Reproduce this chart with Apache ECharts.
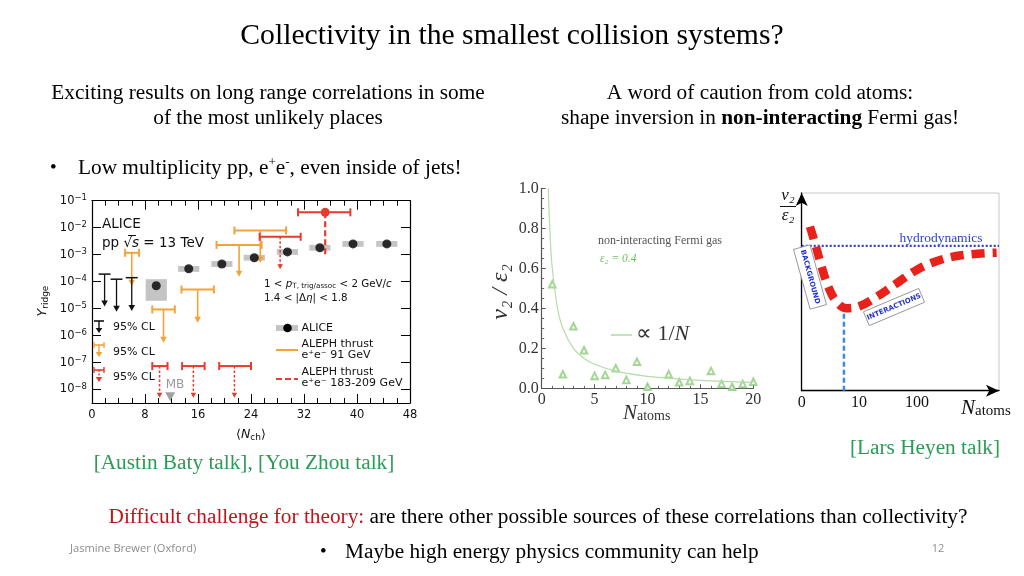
<!DOCTYPE html>
<html><head><meta charset="utf-8">
<script src="https://cdn.jsdelivr.net/npm/echarts@6/dist/echarts.min.js"></script>
<style>html,body{margin:0;padding:0;background:#fff}#c{width:1024px;height:576px}</style>
</head><body><div id="c"></div>
<script>
// ===== Left panel: ALICE Y_ridge vs <N_ch> (log y) =====
const yTickExps   = [-8, -7, -6, -5, -4, -3, -2, -1];
const yTickSup    = ['−8', '−7', '−6', '−5', '−4', '−3', '−2', '−1'];
const xTickLabelsLeft = ['0','8','16','24','32','40','48'];

const aliceN      = [9.7, 14.6, 19.6, 24.5, 29.5, 34.4, 39.4, 44.5];
const aliceY      = [7.0e-5, 3.0e-4, 4.5e-4, 7.7e-4, 1.26e-3, 1.8e-3, 2.5e-3, 2.5e-3];
const aliceSystLo = [1.95e-5, 2.3e-4, 3.5e-4, 6.0e-4, 9.8e-4, 1.4e-3, 1.95e-3, 1.95e-3];
const aliceSystHi = [1.23e-4, 3.8e-4, 5.8e-4, 9.9e-4, 1.62e-3, 2.3e-3, 3.2e-3, 3.2e-3];
const aliceSystHalfN = [1.6, 1.6, 1.6, 1.6, 1.6, 1.6, 1.6, 1.6];

const blackN = [1.9, 3.7, 6.0];
const blackLo = [1.0, 2.8, 5.1];
const blackHi = [2.8, 4.6, 6.9];
const blackLimit = [1.9e-4, 1.23e-4, 1.4e-4];
const blackArrowTo = [1.2e-5, 7.6e-6, 8.1e-6];

const orangeN = [6.0, 10.8, 15.95, 22.2, 25.4];
const orangeLo = [5.0, 9.1, 13.5, 18.8, 21.5];
const orangeHi = [7.1, 12.5, 18.4, 25.6, 29.3];
const orangeLimit = [1.17e-3, 9.3e-6, 5.1e-5, 2.3e-3, 7.9e-3];
const orangeArrowTo = [7.0e-5, 5.4e-7, 3.0e-6, 1.5e-4, 5.0e-4];

const redN = [10.2, 15.3, 21.5, 28.4];
const redLo = [9.1, 13.6, 19.2, 25.3];
const redHi = [11.4, 17.0, 24.0, 31.5];
const redLimit = [7.4e-8, 7.4e-8, 7.4e-8, 4.6e-3];
const redArrowTo = [5.0e-9, 5.0e-9, 5.0e-9, 2.9e-4];

const redPointN = [35.2];
const redPointLo = [31.1];
const redPointHi = [39.0];
const redPointY = [3.7e-2];
const redPointErrDown = [8.9e-4];

const mbN = [11.8];
const mbY = [5.4e-9];

// ===== Middle panel: cold atoms v2/eps2 vs N_atoms =====
const atomsN = [1, 2, 3, 4, 5, 6, 7, 8, 9, 10, 12, 13, 14, 16, 17, 18, 19, 20];
const atomsV = [0.52, 0.07, 0.31, 0.19, 0.062, 0.067, 0.10, 0.042, 0.133, 0.008, 0.07, 0.03, 0.037, 0.087, 0.022, 0.008, 0.022, 0.033];
const fitN = [0.62, 0.8, 1, 1.5, 2, 3, 4, 5, 7, 10, 15, 20];
const fitV = [1.0, 0.76, 0.6, 0.4, 0.3, 0.2, 0.15, 0.12, 0.086, 0.06, 0.04, 0.03];

// ===== Right panel: schematic =====
const schemTickPos = [0, 29, 58.4];
const schemTickLabels = ['0', '10', '100'];
const curveX = [4.2, 6.7, 10.1, 13.5, 17.7, 22.8, 29.5, 38.0, 48.1, 58.3, 70.1, 81.9, 98.8];
const curveY = [83.0, 74.7, 62.7, 52.6, 45.0, 41.7, 42.8, 47.5, 54.3, 61.1, 66.1, 68.6, 69.8];
const hydroLevel = [73.3];
const minimumX = [21.4];
const minimumY = [39.3];

// ---------------------------------------------------------------
const L = v => Math.log10(v);
const SANS = 'DejaVu Sans';
const SERIF = 'Liberation Serif';
const ORANGE = '#f2a33a';
const RED = '#e63b2e';
const BODY = 21.3;

function limitSeries(N, lo, hi, lim, tip, color, o) {
  return {
    type: 'custom', xAxisIndex: 0, yAxisIndex: 0, z: o.z || 4, silent: true,
    data: N.map((n, i) => [n, lo[i], hi[i], L(lim[i]), L(tip[i])]),
    encode: { x: [0, 1, 2], y: [3, 4] },
    renderItem: (params, api) => {
      const c = api.coord([api.value(0), api.value(3)]);
      const l = api.coord([api.value(1), api.value(3)]);
      const h = api.coord([api.value(2), api.value(3)]);
      const t = api.coord([api.value(0), api.value(4)]);
      const ah = o.ah;
      const ch = [{ type: 'line', shape: { x1: l[0], y1: l[1], x2: h[0], y2: h[1] }, style: { stroke: color, lineWidth: o.barLw } }];
      if (o.caps) {
        ch.push({ type: 'line', shape: { x1: l[0], y1: l[1] - 4, x2: l[0], y2: l[1] + 4 }, style: { stroke: color, lineWidth: o.barLw } });
        ch.push({ type: 'line', shape: { x1: h[0], y1: h[1] - 4, x2: h[0], y2: h[1] + 4 }, style: { stroke: color, lineWidth: o.barLw } });
      }
      ch.push({ type: 'line', shape: { x1: c[0], y1: c[1], x2: t[0], y2: t[1] - ah * 0.8 }, style: { stroke: color, lineWidth: o.lw, lineDash: o.dash || null } });
      ch.push({ type: 'polygon', shape: { points: [[t[0] - ah * 0.55, t[1] - ah], [t[0] + ah * 0.55, t[1] - ah], [t[0], t[1]]] }, style: { fill: color } });
      return { type: 'group', children: ch };
    }
  };
}

const series = [];
series.push({
  type: 'custom', xAxisIndex: 0, yAxisIndex: 0, z: 2, silent: true,
  data: aliceN.map((n, i) => [n - aliceSystHalfN[i], n + aliceSystHalfN[i], L(aliceSystLo[i]), L(aliceSystHi[i])]),
  encode: { x: [0, 1], y: [2, 3] },
  renderItem: (p, api) => {
    const a = api.coord([api.value(0), api.value(3)]);
    const b = api.coord([api.value(1), api.value(2)]);
    return { type: 'rect', shape: { x: a[0], y: a[1], width: b[0] - a[0], height: b[1] - a[1] }, style: { fill: '#c4c4c4' } };
  }
});
series.push(limitSeries(blackN, blackLo, blackHi, blackLimit, blackArrowTo, '#111', { ah: 6, lw: 1.3, barLw: 1.5, caps: false, z: 5 }));
series.push(limitSeries(orangeN, orangeLo, orangeHi, orangeLimit, orangeArrowTo, ORANGE, { ah: 6, lw: 1.6, barLw: 2, caps: true, z: 4 }));
series.push(limitSeries(redN, redLo, redHi, redLimit, redArrowTo, RED, { ah: 5, lw: 1.5, barLw: 2, caps: true, dash: [2.5, 2], z: 4 }));
series.push({
  type: 'custom', xAxisIndex: 0, yAxisIndex: 0, z: 4, silent: true,
  data: redPointN.map((n, i) => [n, redPointLo[i], redPointHi[i], L(redPointY[i]), L(redPointErrDown[i])]),
  encode: { x: [0, 1, 2], y: [3, 4] },
  renderItem: (p, api) => {
    const c = api.coord([api.value(0), api.value(3)]);
    const l = api.coord([api.value(1), api.value(3)]);
    const h = api.coord([api.value(2), api.value(3)]);
    const t = api.coord([api.value(0), api.value(4)]);
    return { type: 'group', children: [
      { type: 'line', shape: { x1: l[0], y1: l[1], x2: h[0], y2: h[1] }, style: { stroke: RED, lineWidth: 2 } },
      { type: 'line', shape: { x1: l[0], y1: l[1] - 4, x2: l[0], y2: l[1] + 4 }, style: { stroke: RED, lineWidth: 2 } },
      { type: 'line', shape: { x1: h[0], y1: h[1] - 4, x2: h[0], y2: h[1] + 4 }, style: { stroke: RED, lineWidth: 2 } },
      { type: 'line', shape: { x1: c[0], y1: c[1], x2: t[0], y2: t[1] }, style: { stroke: RED, lineWidth: 2.2, lineDash: [6, 3] } },
      { type: 'circle', shape: { cx: c[0], cy: c[1], r: 4.5 }, style: { fill: RED } }
    ] };
  }
});
series.push({
  type: 'scatter', xAxisIndex: 0, yAxisIndex: 0, z: 6, silent: true,
  data: aliceN.map((n, i) => [n, L(aliceY[i])]),
  symbol: 'circle', symbolSize: 9, itemStyle: { color: '#000' }
});
series.push({
  type: 'scatter', xAxisIndex: 0, yAxisIndex: 0, z: 6, silent: true,
  data: mbN.map((n, i) => [n, L(mbY[i])]),
  symbol: 'triangle', symbolRotate: 180, symbolSize: [10, 9], itemStyle: { color: '#8a8a8a' }
});
series.push({
  type: 'line', xAxisIndex: 2, yAxisIndex: 2, smooth: 0.35, showSymbol: false, silent: true,
  data: fitN.map((n, i) => [n, fitV[i]]),
  lineStyle: { color: '#b5dca8', width: 1.2 }
});
series.push({
  type: 'scatter', xAxisIndex: 2, yAxisIndex: 2, silent: true,
  data: atomsN.map((n, i) => [n, atomsV[i]]),
  symbol: 'emptyTriangle', symbolSize: 6.5, itemStyle: { color: '#8ccc7a', borderWidth: 1 }
});
series.push({
  type: 'line', xAxisIndex: 3, yAxisIndex: 3, silent: true, showSymbol: false, z: 2,
  data: [[0, hydroLevel[0]], [100, hydroLevel[0]]],
  lineStyle: { color: '#2e3fd0', width: 2.2, type: [2, 2] }
});
series.push({
  type: 'line', xAxisIndex: 3, yAxisIndex: 3, silent: true, showSymbol: false, z: 2,
  data: [[minimumX[0], 0], [minimumX[0], minimumY[0]]],
  lineStyle: { color: '#3b8de0', width: 2.5, type: [5, 3] }
});
series.push({
  type: 'line', xAxisIndex: 3, yAxisIndex: 3, silent: true, showSymbol: false, smooth: 0.4, z: 3,
  data: curveX.map((x, i) => [x, curveY[i]]),
  lineStyle: { color: '#e8221a', width: 8.5, type: [13, 8] }
});

const option = {
  animation: false,
  backgroundColor: '#fff',
  grid: [
    { left: 92, top: 200.7, width: 318, height: 202.3, outerBoundsMode: 'none' },
    { left: 541.7, top: 188.3, width: 211.6, height: 200, outerBoundsMode: 'none' },
    { left: 801.7, top: 193, width: 197.3, height: 197.7, show: true, borderColor: '#c8c8c8', borderWidth: 1, outerBoundsMode: 'none' }
  ],
  xAxis: [
    { gridIndex: 0, type: 'value', min: 0, max: 48, interval: 8, position: 'bottom',
      axisLine: { onZero: false, lineStyle: { color: '#000', width: 1.2 } },
      axisTick: { inside: true, length: 9, lineStyle: { color: '#000', width: 1 } },
      minorTick: { show: true, splitNumber: 4, length: 5, lineStyle: { color: '#000', width: 1 } },
      splitLine: { show: false },
      axisLabel: { fontFamily: SANS, fontSize: 11.5, color: '#111', margin: 6,
        formatter: v => xTickLabelsLeft[Math.round(v / 8)] } },
    { gridIndex: 0, type: 'value', min: 0, max: 48, interval: 8, position: 'top',
      axisLine: { onZero: false, lineStyle: { color: '#000', width: 1.2 } },
      axisTick: { inside: true, length: 9, lineStyle: { color: '#000', width: 1 } },
      minorTick: { show: true, splitNumber: 4, length: 5, lineStyle: { color: '#000', width: 1 } },
      splitLine: { show: false }, axisLabel: { show: false } },
    { gridIndex: 1, type: 'value', min: 0, max: 20, interval: 5,
      axisLine: { onZero: false, lineStyle: { color: '#555', width: 1.2 } },
      axisTick: { inside: true, length: 4, lineStyle: { color: '#555' } },
      minorTick: { show: true, splitNumber: 5, length: 2.5, lineStyle: { color: '#666' } },
      splitLine: { show: false },
      axisLabel: { fontFamily: SERIF, fontSize: 16, color: '#333', margin: 3 } },
    { gridIndex: 2, type: 'value', min: 0, max: 100,
      axisLine: { onZero: false, symbol: ['none', 'arrow'], symbolSize: [9, 13], lineStyle: { color: '#000', width: 1.3 } },
      axisTick: { show: false }, splitLine: { show: false },
      axisLabel: { customValues: schemTickPos, fontFamily: SERIF, fontSize: 16, color: '#111', margin: 4,
        formatter: v => schemTickLabels[schemTickPos.indexOf(v)] } }
  ],
  yAxis: [
    { gridIndex: 0, type: 'value', min: -8.5, max: -1, position: 'left',
      axisLine: { onZero: false, lineStyle: { color: '#000', width: 1.2 } },
      axisTick: { inside: true, length: 9, customValues: yTickExps, lineStyle: { color: '#000', width: 1 } },
      splitLine: { show: false },
      axisLabel: { customValues: yTickExps, margin: 5,
        formatter: v => '{b|10}{s|' + yTickSup[yTickExps.indexOf(Math.round(v))] + '}',
        rich: { b: { fontFamily: SANS, fontSize: 11.5, color: '#111', lineHeight: 14 },
                s: { fontFamily: SANS, fontSize: 8.5, color: '#111', verticalAlign: 'top', lineHeight: 10 } } } },
    { gridIndex: 0, type: 'value', min: -8.5, max: -1, position: 'right',
      axisLine: { onZero: false, lineStyle: { color: '#000', width: 1.2 } },
      axisTick: { inside: true, length: 9, customValues: yTickExps, lineStyle: { color: '#000', width: 1 } },
      splitLine: { show: false }, axisLabel: { show: false } },
    { gridIndex: 1, type: 'value', min: 0, max: 1, interval: 0.2,
      axisLine: { onZero: false, lineStyle: { color: '#555', width: 1.2 } },
      axisTick: { inside: true, length: 4, lineStyle: { color: '#555' } },
      minorTick: { show: true, splitNumber: 4, length: 2.5, lineStyle: { color: '#666' } },
      splitLine: { show: false },
      axisLabel: { fontFamily: SERIF, fontSize: 16, color: '#333', margin: 3, formatter: v => v.toFixed(1) } },
    { gridIndex: 2, type: 'value', min: 0, max: 100,
      axisLine: { onZero: false, symbol: ['none', 'arrow'], symbolSize: [9, 13], lineStyle: { color: '#000', width: 1.3 } },
      axisTick: { show: false }, splitLine: { show: false }, axisLabel: { show: false } }
  ],
  series: series,
  graphic: []
};

const G = option.graphic;
function T(text, x, y, s, extra) {
  const el = { type: 'text', x: x, y: y, z: 100, silent: true,
    style: Object.assign({ text: text, fill: '#000', fontFamily: SERIF, fontSize: BODY, align: 'left', verticalAlign: 'middle' }, s || {}) };
  return Object.assign(el, extra || {});
}
// slide text
G.push(T('Collectivity in the smallest collision systems?', 512, 36, { fontSize: 29.7, align: 'center' }));
G.push(T('Exciting results on long range correlations in some', 268, 93, { align: 'center' }));
G.push(T('of the most unlikely places', 268, 118, { align: 'center' }));
G.push(T('A word of caution from cold atoms:', 760, 93, { align: 'center' }));
G.push(T('{n|shape inversion in }{b|non-interacting}{n| Fermi gas!}', 760, 118, { align: 'center',
  rich: { n: { fontFamily: SERIF, fontSize: BODY, fill: '#000' }, b: { fontFamily: SERIF, fontSize: BODY, fontWeight: 'bold', fill: '#000' } } }));
G.push(T('•', 50, 168, { fontSize: 19 }));
G.push(T('{n|Low multiplicity pp, e}{s|+}{n|e}{s|-}{n|, even inside of jets!}', 78, 168, {
  rich: { n: { fontFamily: SERIF, fontSize: BODY, fill: '#000', lineHeight: 24 }, s: { fontFamily: SERIF, fontSize: 13, fill: '#000', verticalAlign: 'top', lineHeight: 15 } } }));
G.push(T('[Austin Baty talk], [You Zhou talk]', 244, 463, { align: 'center', fill: '#2e9a58' }));
G.push(T('[Lars Heyen talk]', 925, 448, { align: 'center', fill: '#2e9a58' }));
G.push(T('{r|Difficult challenge for theory: }{k|are there other possible sources of these correlations than collectivity?}', 538, 517, { align: 'center',
  rich: { r: { fontFamily: SERIF, fontSize: BODY, fill: '#c0141c' }, k: { fontFamily: SERIF, fontSize: BODY, fill: '#000' } } }));
G.push(T('Jasmine Brewer (Oxford)', 70, 549, { fontFamily: 'Open Sans', fontSize: 11.1, fill: '#8c8c8c' }));
G.push(T('•', 320, 552, { fontSize: 19 }));
G.push(T('Maybe high energy physics community can help', 345, 552, {}));
G.push(T('12', 938, 549, { fontFamily: 'Open Sans', fontSize: 11, fill: '#8c8c8c', align: 'center' }));

// left panel annotations
const sansRich = {
  n: { fontFamily: SANS, fontSize: 12.5, fill: '#111', lineHeight: 15 },
  i: { fontFamily: SANS, fontSize: 12.5, fontStyle: 'italic', fill: '#111', lineHeight: 15 },
  sub: { fontFamily: SANS, fontSize: 9, fill: '#111', verticalAlign: 'bottom', lineHeight: 10 },
  N: { fontFamily: SANS, fontSize: 13.5, fill: '#111' },
  I: { fontFamily: SANS, fontSize: 13.5, fontStyle: 'italic', fill: '#111' }
};
const smallRich = {
  n: { fontFamily: SANS, fontSize: 10.3, fill: '#111', lineHeight: 12 },
  i: { fontFamily: SANS, fontSize: 10.3, fontStyle: 'italic', fill: '#111', lineHeight: 12 },
  sub: { fontFamily: SANS, fontSize: 7.2, fill: '#111', verticalAlign: 'bottom', lineHeight: 7 }
};
G.push(T('ALICE', 102, 224, { fontFamily: SANS, fontSize: 13.5, fill: '#111' }));
G.push(T('{N|pp √}{I|s}{N| = 13 TeV}', 102, 243, { rich: sansRich }));
G.push({ type: 'line', z: 100, silent: true, shape: { x1: 128, y1: 235.5, x2: 136, y2: 235.5 }, style: { stroke: '#111', lineWidth: 1 } });
G.push(T('{n|1 < }{i|p}{sub|T, trig/assoc}{n| < 2 GeV/}{i|c}', 264, 284, { rich: smallRich }));
G.push(T('{n|1.4 < |Δ}{i|η}{n|| < 1.8}', 264, 298, { rich: smallRich }));
G.push(T('{n|⟨}{i|N}{sub|ch}{n|⟩}', 251, 435, { align: 'center', rich: sansRich }));
G.push(T('{i|Y}{sub|ridge}', 43, 301, { align: 'center', rich: sansRich }, { rotation: Math.PI / 2 }));
G.push(T('MB', 175, 385, { fontFamily: SANS, fontSize: 12, fill: '#999', align: 'center' }));
['95% CL', '95% CL', '95% CL'].forEach((t, k) => G.push(T(t, 113, [327.3, 351.7, 376.7][k], { fontFamily: SANS, fontSize: 11, fill: '#111' })));
function arrowIcon(x, y0, y1, color, caps, dash) {
  G.push({ type: 'line', z: 100, silent: true, shape: { x1: x - 5, y1: y0, x2: x + 5, y2: y0 }, style: { stroke: color, lineWidth: 1.6 } });
  if (caps) {
    G.push({ type: 'line', z: 100, silent: true, shape: { x1: x - 5, y1: y0 - 3, x2: x - 5, y2: y0 + 3 }, style: { stroke: color, lineWidth: 1.4 } });
    G.push({ type: 'line', z: 100, silent: true, shape: { x1: x + 5, y1: y0 - 3, x2: x + 5, y2: y0 + 3 }, style: { stroke: color, lineWidth: 1.4 } });
  }
  G.push({ type: 'line', z: 100, silent: true, shape: { x1: x, y1: y0, x2: x, y2: y1 - 4 }, style: { stroke: color, lineWidth: 1.4, lineDash: dash || null } });
  G.push({ type: 'polygon', z: 100, silent: true, shape: { points: [[x - 3.3, y1 - 5], [x + 3.3, y1 - 5], [x, y1]] }, style: { fill: color } });
}
arrowIcon(99, 321, 333, '#111', false);
arrowIcon(99, 345, 357, ORANGE, true);
arrowIcon(99, 370, 382, RED, true, [2, 1.5]);
G.push({ type: 'rect', z: 100, silent: true, shape: { x: 276, y: 325, width: 22, height: 6 }, style: { fill: '#c4c4c4' } });
G.push({ type: 'circle', z: 101, silent: true, shape: { cx: 287.5, cy: 328, r: 4.3 }, style: { fill: '#000' } });
G.push({ type: 'line', z: 100, silent: true, shape: { x1: 276, y1: 350, x2: 298, y2: 350 }, style: { stroke: ORANGE, lineWidth: 2 } });
G.push({ type: 'line', z: 100, silent: true, shape: { x1: 276, y1: 379, x2: 298, y2: 379 }, style: { stroke: RED, lineWidth: 2.2, lineDash: [6, 3] } });
G.push(T('ALICE', 301.5, 328, { fontFamily: SANS, fontSize: 11, fill: '#111' }));
G.push(T('ALEPH thrust', 301.5, 343.7, { fontFamily: SANS, fontSize: 11, fill: '#111' }));
G.push(T('e⁺e⁻ 91 GeV', 301.5, 355.5, { fontFamily: SANS, fontSize: 11, fill: '#111' }));
G.push(T('ALEPH thrust', 301.5, 372, { fontFamily: SANS, fontSize: 11, fill: '#111' }));
G.push(T('e⁺e⁻ 183-209 GeV', 301.5, 383.5, { fontFamily: SANS, fontSize: 11, fill: '#111' }));

// middle panel annotations
G.push(T('non-interacting Fermi gas', 660, 241, { fontSize: 12, fill: '#555', align: 'center' }));
G.push(T('ε₂ = 0.4', 600, 259, { fontSize: 11.5, fill: '#6cbf5a', fontStyle: 'italic' }));
G.push({ type: 'line', z: 100, silent: true, shape: { x1: 611, y1: 335, x2: 632, y2: 335 }, style: { stroke: '#9ed18e', lineWidth: 1.2 } });
G.push(T('∝ 1/{i|N}', 636, 334, { fontSize: 22, fill: '#333',
  rich: { i: { fontFamily: SERIF, fontSize: 22, fontStyle: 'italic', fill: '#333' } } }));
G.push(T('v₂ / ε₂', 501, 292, { fontSize: 24, fontStyle: 'italic', fill: '#333', align: 'center' }, { rotation: Math.PI / 2 }));
G.push(T('{i|N}{s|atoms}', 623, 413, { fill: '#333',
  rich: { i: { fontFamily: SERIF, fontSize: 21, fontStyle: 'italic', fill: '#333' }, s: { fontFamily: SERIF, fontSize: 14, fill: '#333', verticalAlign: 'bottom', lineHeight: 16 } } }));

// right panel annotations
G.push(T('hydrodynamics', 941, 238, { fontSize: 13.5, fill: '#3344cc', align: 'center' }));
G.push(T('v₂', 788, 196, { fontSize: 17, fontStyle: 'italic', fill: '#111', align: 'center' }));
G.push({ type: 'line', z: 100, silent: true, shape: { x1: 780, y1: 206.5, x2: 796, y2: 206.5 }, style: { stroke: '#111', lineWidth: 1 } });
G.push(T('ε₂', 788, 216, { fontSize: 17, fontStyle: 'italic', fill: '#111', align: 'center' }));
G.push(T('{i|N}{s|atoms}', 961, 408, { fill: '#111',
  rich: { i: { fontFamily: SERIF, fontSize: 21, fontStyle: 'italic', fill: '#111' }, s: { fontFamily: SERIF, fontSize: 15, fill: '#111', verticalAlign: 'bottom', lineHeight: 17 } } }));
G.push({ type: 'group', x: 810, y: 277, rotation: -1.30, z: 100, silent: true, children: [
  { type: 'rect', shape: { x: -31, y: -8.5, width: 62, height: 17 }, style: { fill: '#fff', stroke: '#8a8a8a', lineWidth: 0.8 }, z: 100 },
  { type: 'text', style: { text: 'BACKGROUND', x: 0, y: 0, align: 'center', verticalAlign: 'middle', fontFamily: 'DejaVu Sans', fontWeight: 'bold', fontSize: 7, fill: '#2233cc' }, z: 101 }
] });
G.push({ type: 'group', x: 894, y: 307, rotation: 0.40, z: 100, silent: true, children: [
  { type: 'rect', shape: { x: -30, y: -7.5, width: 60, height: 15 }, style: { fill: '#fff', stroke: '#8a8a8a', lineWidth: 0.8 }, z: 100 },
  { type: 'text', style: { text: 'INTERACTIONS', x: 0, y: 0, align: 'center', verticalAlign: 'middle', fontFamily: 'DejaVu Sans', fontWeight: 'bold', fontSize: 7, fill: '#2233cc' }, z: 101 }
] });

const chart = echarts.init(document.getElementById('c'), null, { renderer: 'canvas', width: 1024, height: 576 });
chart.setOption(option);
</script>
</body></html>
